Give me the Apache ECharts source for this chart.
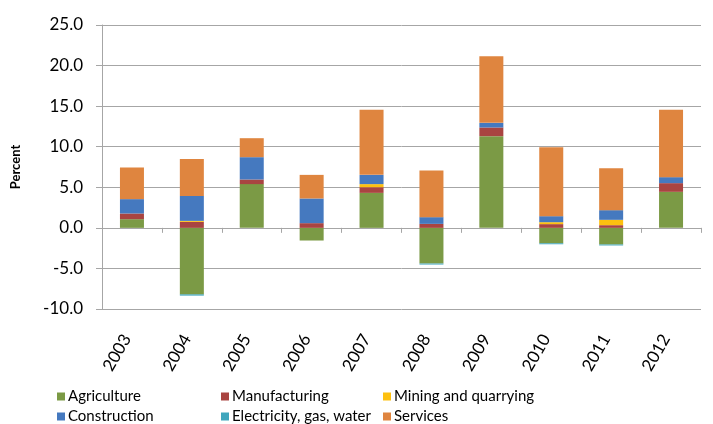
<!DOCTYPE html>
<html>
<head>
<meta charset="utf-8">
<script src="https://cdn.jsdelivr.net/npm/echarts@6/dist/echarts.min.js"></script>
<style>
html,body{margin:0;padding:0;background:#fff;}
#c{width:713px;height:424px;}
</style>
</head>
<body>
<div id="c"></div>
<script>
var years = ['2003','2004','2005','2006','2007','2008','2009','2010','2011','2012'];
var agriculture   = [1.07, -8.2, 5.39, -1.56, 4.31, -4.4, 11.3, -1.9, -2.05, 4.44];
var manufacturing = [0.70, 0.74, 0.57, 0.58, 0.70, 0.49, 1.07, 0.46, 0.33, 1.07];
var mining        = [0, 0.12, 0, 0, 0.38, 0, 0, 0.24, 0.66, 0];
var construction  = [1.77, 3.08, 2.75, 3.04, 1.14, 0.83, 0.57, 0.74, 1.19, 0.74];
var electricity   = [0, -0.15, 0, 0, 0, -0.12, 0, -0.12, -0.12, 0];
var services      = [3.90, 4.56, 2.34, 2.91, 8.02, 5.75, 8.2, 8.5, 5.18, 8.3];
var yTicks = {min: -10, max: 25, interval: 5};

var font = 'Lato, "Open Sans", sans-serif';
var colors = {
  'Agriculture': '#7b9a45',
  'Manufacturing': '#a94441',
  'Mining and quarrying': '#fdc010',
  'Construction': '#4579bf',
  'Electricity, gas, water': '#3fa6bd',
  'Services': '#df853f'
};
var seriesData = [
  ['Agriculture', agriculture],
  ['Manufacturing', manufacturing],
  ['Mining and quarrying', mining],
  ['Construction', construction],
  ['Electricity, gas, water', electricity],
  ['Services', services]
];
var legendPos = [[57, 389], [221, 389], [383, 389], [57, 409], [221, 409], [383, 409]];

var chart = echarts.init(document.getElementById('c'), null, {renderer: 'canvas'});
chart.setOption({
  animation: false,
  grid: {left: 102, right: 12, top: 25, bottom: 115},
  legend: seriesData.map(function(s, i){
    return {
      data: [s[0]], left: legendPos[i][0], top: legendPos[i][1], padding: 0,
      itemWidth: 8, itemHeight: 8, icon: 'rect',
      textStyle: {fontFamily: font, fontSize: 15, color: '#000', padding: [0,0,0,-2]}
    };
  }),
  xAxis: [{
    type: 'category', data: years,
    axisLine: {onZero: true, lineStyle: {color: '#a6a6a6', width: 1}},
    axisTick: {show: true, length: 5, lineStyle: {color: '#a6a6a6'}},
    axisLabel: {show: false},
    splitLine: {show: false}
  }, {
    type: 'category', data: years, position: 'bottom',
    axisLine: {show: false, onZero: false},
    axisTick: {show: false},
    axisLabel: {rotate: 60, margin: 18, padding: [0, 10, 0, 0], fontFamily: font, fontSize: 17, color: '#000'}
  }],
  yAxis: {
    type: 'value', min: yTicks.min, max: yTicks.max, interval: yTicks.interval,
    name: 'Percent', nameLocation: 'middle', nameGap: 80, nameRotate: 90,
    nameTextStyle: {fontFamily: font, fontSize: 13, fontWeight: 'bold', color: '#000'},
    axisLine: {show: true, lineStyle: {color: '#a6a6a6'}},
    axisTick: {show: true, length: 6, lineStyle: {color: '#a6a6a6'}},
    axisLabel: {margin: 19, fontFamily: font, fontSize: 17, color: '#000',
      formatter: function(v){ return v.toFixed(1); }},
    splitLine: {lineStyle: {color: '#a6a6a6', width: 1}}
  },
  series: seriesData.map(function(s){
    return {
      name: s[0], type: 'bar', stack: 'total', data: s[1], xAxisIndex: 0,
      barWidth: 24,
      itemStyle: {color: colors[s[0]]}
    };
  })
});
</script>
</body>
</html>
